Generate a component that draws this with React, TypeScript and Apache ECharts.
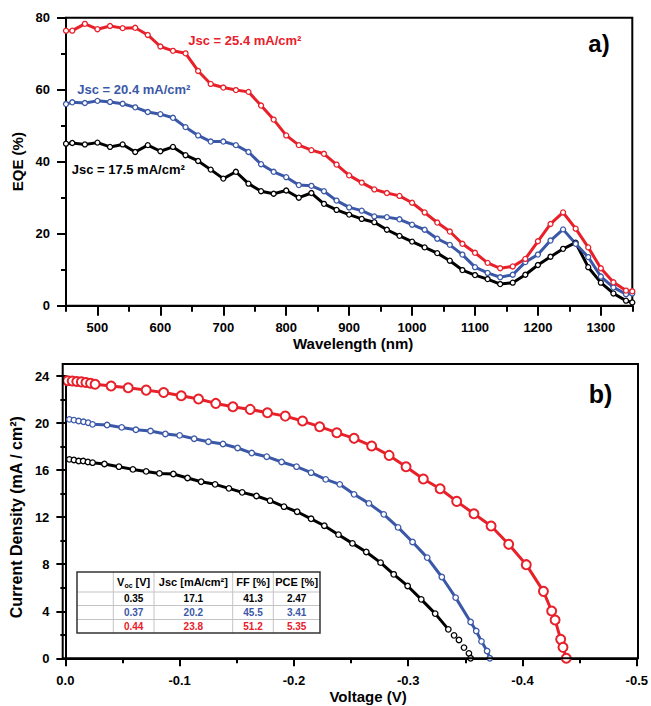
import React, { useEffect, useRef } from "react";
import * as echarts from "echarts";

const FONT = '"Liberation Sans", Arial, sans-serif';
const RED = "#e8202a";
const BLUE = "#3b58a8";
const BLACK = "#000000";

// ---- Panel a) EQE ----
const wavelength = [
  450, 460, 480, 500, 520, 540, 560, 580, 600, 620, 640, 660, 680, 700, 720, 740, 760, 780, 800, 820,
  840, 860, 880, 900, 920, 940, 960, 980, 1000, 1020, 1040, 1060, 1080, 1100, 1120, 1140, 1160, 1180,
  1200, 1220, 1240, 1260, 1280, 1300, 1320, 1340, 1350,
];
const eqeRed = [
  76.4, 76.4, 78.3, 76.8, 77.7, 77.1, 77.2, 75.2, 72.0, 70.8, 70.1, 65.2, 61.6, 60.6, 59.9, 59.4, 55.6,
  51.7, 47.3, 44.6, 43.2, 42.2, 39.2, 36.2, 34.2, 32.3, 31.3, 30.5, 28.6, 25.9, 23.1, 20.6, 17.2, 14.7,
  11.9, 10.4, 10.9, 13.0, 17.9, 22.7, 25.9, 21.4, 16.2, 10.4, 6.5, 4.2, 4.0,
];
const eqeBlue = [
  56.0, 56.5, 56.3, 56.9, 56.6, 56.1, 55.1, 53.8, 53.2, 52.2, 49.6, 47.3, 45.6, 45.6, 44.6, 42.7, 39.3,
  37.2, 35.7, 33.5, 33.3, 31.8, 29.2, 27.3, 26.4, 24.8, 24.6, 24.0, 22.5, 21.1, 18.6, 16.9, 14.2, 10.7,
  9.1, 7.9, 8.6, 12.1, 14.2, 18.1, 21.2, 17.2, 13.5, 8.1, 5.1, 3.2, 3.4,
];
const eqeBlack = [
  45.0, 45.2, 44.8, 45.3, 44.1, 44.8, 42.7, 44.6, 42.9, 44.1, 41.8, 40.2, 37.8, 35.3, 37.2, 33.9, 31.8,
  31.1, 32.0, 30.0, 31.3, 28.3, 26.6, 25.3, 24.1, 23.2, 21.1, 19.4, 17.8, 16.2, 14.6, 12.5, 9.9, 8.5,
  7.4, 6.0, 6.4, 8.6, 11.3, 13.6, 15.8, 17.5, 10.7, 6.4, 3.4, 1.4, 0.9,
];
const jscLabels = ["Jsc = 25.4 mA/cm²", "Jsc = 20.4 mA/cm²", "Jsc = 17.5 mA/cm²"];

// ---- Panel b) J-V ----
const voltageRed = [
  -0.002, -0.006, -0.01, -0.014, -0.018, -0.022, -0.026, -0.04, -0.055, -0.0707, -0.086, -0.1014,
  -0.1165, -0.1316, -0.1466, -0.1617, -0.1768, -0.1924, -0.2075, -0.2225, -0.2375, -0.2526, -0.268,
  -0.2833, -0.2981, -0.3132, -0.3279, -0.3424, -0.3575, -0.3725, -0.3879, -0.4033, -0.4183, -0.4255,
  -0.4285, -0.4334, -0.4354, -0.4383,
];
const currentRed = [
  23.6, 23.57, 23.53, 23.5, 23.45, 23.38, 23.3, 23.15, 23.0, 22.8, 22.6, 22.32, 22.04, 21.67, 21.39,
  21.16, 20.88, 20.59, 20.17, 19.69, 19.18, 18.7, 18.05, 17.25, 16.29, 15.24, 14.42, 13.34, 12.29,
  11.25, 9.69, 7.96, 5.69, 4.02, 3.26, 1.61, 0.93, 0.0,
];
const voltageBlue = [
  -0.0035, -0.0075, -0.0116, -0.0159, -0.02, -0.0238, -0.0365, -0.0493, -0.0617, -0.0745, -0.0875,
  -0.1, -0.1127, -0.1252, -0.1379, -0.1507, -0.1631, -0.1762, -0.1892, -0.2023, -0.215, -0.2278,
  -0.2401, -0.2526, -0.2656, -0.2786, -0.2911, -0.3038, -0.3166, -0.3294, -0.3415, -0.3546, -0.3595,
  -0.3641, -0.369, -0.3714,
];
const currentBlue = [
  20.31, 20.25, 20.17, 20.11, 20.03, 19.89, 19.83, 19.63, 19.43, 19.32, 19.07, 18.95, 18.67, 18.41,
  18.22, 17.88, 17.45, 17.14, 16.69, 16.29, 15.78, 15.21, 14.79, 13.94, 13.17, 12.24, 11.13, 9.89,
  8.56, 6.91, 5.16, 3.09, 2.32, 1.44, 0.62, 0.0,
];
const voltageBlack = [
  -0.0035, -0.0075, -0.0116, -0.0156, -0.0197, -0.0238, -0.0342, -0.0469, -0.0591, -0.0707, -0.0823,
  -0.0945, -0.1069, -0.1188, -0.131, -0.1431, -0.1547, -0.1672, -0.1791, -0.1913, -0.2028, -0.215,
  -0.2266, -0.239, -0.2512, -0.2633, -0.2758, -0.2873, -0.2995, -0.3114, -0.3236, -0.3351,
];
const currentBlack = [
  16.91, 16.86, 16.77, 16.77, 16.69, 16.63, 16.52, 16.29, 16.06, 15.89, 15.72, 15.67, 15.33, 15.01,
  14.79, 14.45, 14.11, 13.8, 13.4, 12.89, 12.46, 11.86, 11.27, 10.51, 9.77, 9.04, 8.13, 7.14, 6.15,
  5.01, 3.8, 2.46,
];
const voltageBlackTail = [-0.3401, -0.3444, -0.3488, -0.3531, -0.3546];
const currentBlackTail = [1.95, 1.56, 0.91, 0.42, 0.0];

// ---- Table ----
const tableHeader = ["{a|V}{s|oc}{a| [V]}", "Jsc [mA/cm²]", "FF [%]", "PCE [%]"];
const tableRows = [
  ["0.35", "17.1", "41.3", "2.47"],
  ["0.37", "20.2", "45.5", "3.41"],
  ["0.44", "23.8", "51.2", "5.35"],
];
const tableColors = [BLACK, BLUE, RED];

const pairs = (xs: number[], ys: number[]) => xs.map((x, i) => [x, ys[i]]);

export default function App() {
  const ref = useRef<HTMLDivElement>(null);

  useEffect(() => {
    document.body.style.margin = "0";
    if (!ref.current) return;
    const chart = echarts.init(ref.current, undefined, { renderer: "svg" });

    const axisLine = { show: true, onZero: false, lineStyle: { color: "#000", width: 2 } };
    const labelStyle = { color: "#000", fontSize: 13, fontWeight: "bold" as const, fontFamily: FONT };
    const nameStyle = { color: "#000", fontSize: 15, fontWeight: "bold" as const, fontFamily: FONT };

    // table geometry
    const tX = [77, 113.3, 154, 232.7, 273.3, 320];
    const tY = [572, 592, 605.5, 619.5, 633];
    const tableGraphics: any[] = [
      {
        type: "rect",
        shape: { x: tX[0], y: tY[0], width: tX[5] - tX[0], height: tY[4] - tY[0] },
        style: { fill: "#fff", stroke: "none" },
        z: 100,
      },
    ];
    for (let i = 1; i < 4; i++) {
      tableGraphics.push({
        type: "line",
        shape: { x1: tX[0], y1: tY[i], x2: tX[5], y2: tY[i] },
        style: { stroke: "#c4c4c4", lineWidth: 1 },
        z: 101,
      });
    }
    for (let i = 1; i < 5; i++) {
      tableGraphics.push({
        type: "line",
        shape: { x1: tX[i], y1: tY[0], x2: tX[i], y2: tY[4] },
        style: { stroke: "#c4c4c4", lineWidth: 1 },
        z: 101,
      });
    }
    tableGraphics.push({
      type: "rect",
      shape: { x: tX[0], y: tY[0], width: tX[5] - tX[0], height: tY[4] - tY[0] },
      style: { fill: "none", stroke: "#333", lineWidth: 1.5 },
      z: 102,
    });
    tableHeader.forEach((h, c) => {
      tableGraphics.push({
        type: "text",
        x: (tX[c + 1] + tX[c + 2]) / 2,
        y: (tY[0] + tY[1]) / 2,
        z: 103,
        style: {
          text: h,
          fill: "#000",
          fontSize: 11,
          fontWeight: "bold",
          fontFamily: FONT,
          align: "center",
          verticalAlign: "middle",
          rich: {
            a: { fontSize: 11, fontWeight: "bold", fontFamily: FONT, fill: "#000", lineHeight: 13 },
            s: { fontSize: 7, fontWeight: "bold", fontFamily: FONT, fill: "#000", verticalAlign: "bottom", lineHeight: 13 },
          },
        },
      });
    });
    tableRows.forEach((row, r) => {
      row.forEach((cell, c) => {
        tableGraphics.push({
          type: "text",
          x: (tX[c + 1] + tX[c + 2]) / 2,
          y: (tY[r + 1] + tY[r + 2]) / 2,
          z: 103,
          style: {
            text: cell,
            fill: tableColors[r],
            fontSize: 10,
            fontWeight: "bold",
            fontFamily: FONT,
            align: "center",
            verticalAlign: "middle",
          },
        });
      });
    });

    const jscPos = [
      [188.3, 40, RED],
      [77.3, 89.5, BLUE],
      [71.7, 169.5, BLACK],
    ];

    const option: any = {
      animation: false,
      backgroundColor: "#fff",
      grid: [
        { left: 66, top: 17.7, width: 566.3, height: 288, show: true, borderColor: "#000", borderWidth: 2, backgroundColor: "transparent" },
        { left: 62.7, top: 376, width: 575.3, height: 282.3 },
      ],
      xAxis: [
        {
          gridIndex: 0,
          type: "value",
          position: "bottom",
          min: 450,
          max: 1350,
          interval: 50,
          axisLine,
          axisTick: { show: true, length: 6, lineStyle: { color: "#000", width: 2 } },
          axisLabel: { show: false },
          splitLine: { show: false },
        },
        {
          gridIndex: 0,
          type: "value",
          position: "bottom",
          min: 450,
          max: 1350,
          splitNumber: 9,
          axisLine: { show: false, onZero: false },
          axisTick: { show: true, length: 10, lineStyle: { color: "#000", width: 2 } },
          axisLabel: {
            ...labelStyle,
            margin: 15,
            showMinLabel: false,
            showMaxLabel: false,
            formatter: (v: number) => String(Math.round(v)),
          },
          splitLine: { show: false },
          name: "Wavelength (nm)",
          nameLocation: "middle",
          nameGap: 30,
          nameTextStyle: { ...nameStyle, padding: [0, 0, 0, 8] },
        },
        {
          gridIndex: 1,
          type: "value",
          position: "bottom",
          min: -0.5,
          max: 0,
          interval: 0.1,
          inverse: true,
          axisLine,
          axisTick: { show: true, length: 8, lineStyle: { color: "#000", width: 2 } },
          minorTick: { show: true, splitNumber: 2, length: 5, lineStyle: { color: "#000", width: 2 } },
          axisLabel: {
            ...labelStyle,
            margin: 16,
            formatter: (v: number) => (Math.abs(v) < 1e-9 ? "0.0" : v.toFixed(1)),
          },
          splitLine: { show: false },
          minorSplitLine: { show: false },
          name: "Voltage (V)",
          nameLocation: "middle",
          nameGap: 31,
          nameTextStyle: { ...nameStyle, padding: [0, 0, 0, 34] },
        },
      ],
      yAxis: [
        {
          gridIndex: 0,
          type: "value",
          min: 0,
          max: 80,
          interval: 20,
          axisLine,
          axisTick: { show: true, length: 9, lineStyle: { color: "#000", width: 2 } },
          minorTick: { show: true, splitNumber: 2, length: 5, lineStyle: { color: "#000", width: 2 } },
          axisLabel: { ...labelStyle, margin: 16 },
          splitLine: { show: false },
          minorSplitLine: { show: false },
          name: "EQE (%)",
          nameLocation: "middle",
          nameGap: 33,
          nameTextStyle: nameStyle,
        },
        {
          gridIndex: 1,
          type: "value",
          min: 0,
          max: 24,
          interval: 4,
          axisLine,
          axisTick: { show: true, length: 9, lineStyle: { color: "#000", width: 2 } },
          minorTick: { show: true, splitNumber: 2, length: 5, lineStyle: { color: "#000", width: 2 } },
          axisLabel: { ...labelStyle, margin: 16 },
          splitLine: { show: false },
          minorSplitLine: { show: false },
          name: "Current Density (mA / cm²)",
          nameLocation: "middle",
          nameGap: 31,
          nameTextStyle: { ...nameStyle, fontSize: 16 },
        },
      ],
      series: [
        ...[
          [eqeBlack, BLACK],
          [eqeBlue, BLUE],
          [eqeRed, RED],
        ].map(([vals, col]: any) => ({
          type: "line",
          xAxisIndex: 0,
          yAxisIndex: 0,
          data: pairs(wavelength, vals),
          symbol: "circle",
          symbolSize: 5,
          itemStyle: { color: "#fff", borderColor: col, borderWidth: 1.3 },
          lineStyle: { color: col, width: 3 },
          emphasis: { disabled: true },
        })),
        {
          type: "line",
          xAxisIndex: 2,
          yAxisIndex: 1,
          data: pairs(voltageBlack, currentBlack),
          symbol: "circle",
          symbolSize: 5.5,
          itemStyle: { color: "#fff", borderColor: BLACK, borderWidth: 1.3 },
          lineStyle: { color: BLACK, width: 3 },
          emphasis: { disabled: true },
        },
        {
          type: "scatter",
          xAxisIndex: 2,
          yAxisIndex: 1,
          data: pairs(voltageBlackTail, currentBlackTail),
          symbol: "circle",
          symbolSize: 5.5,
          itemStyle: { color: "#fff", borderColor: BLACK, borderWidth: 1.3, opacity: 1 },
          emphasis: { disabled: true },
        },
        {
          type: "line",
          xAxisIndex: 2,
          yAxisIndex: 1,
          data: pairs(voltageBlue, currentBlue),
          symbol: "circle",
          symbolSize: 5.5,
          itemStyle: { color: "#fff", borderColor: BLUE, borderWidth: 1.3 },
          lineStyle: { color: BLUE, width: 3 },
          emphasis: { disabled: true },
        },
        {
          type: "line",
          xAxisIndex: 2,
          yAxisIndex: 1,
          data: pairs(voltageRed, currentRed),
          symbol: "circle",
          symbolSize: 9,
          itemStyle: { color: "#fff", borderColor: RED, borderWidth: 2 },
          lineStyle: { color: RED, width: 3 },
          emphasis: { disabled: true },
        },
      ],
      graphic: [
        ...jscLabels.map((t, i) => ({
          type: "text",
          x: jscPos[i][0],
          y: jscPos[i][1],
          z: 50,
          style: {
            text: t,
            fill: jscPos[i][2],
            fontSize: 13,
            fontWeight: "bold",
            fontFamily: FONT,
            align: "left",
            verticalAlign: "middle",
          },
        })),
        {
          type: "text",
          x: 599,
          y: 43,
          z: 50,
          style: { text: "a)", fill: "#000", fontSize: 24, fontWeight: "bold", fontFamily: FONT, align: "center", verticalAlign: "middle" },
        },
        {
          type: "text",
          x: 600.5,
          y: 394,
          z: 50,
          style: { text: "b)", fill: "#000", fontSize: 25, fontWeight: "bold", fontFamily: FONT, align: "center", verticalAlign: "middle" },
        },
        {
          type: "rect",
          shape: { x: 62.7, y: 364, width: 575.3, height: 294.3 },
          style: { fill: "none", stroke: "#000", lineWidth: 2 },
          z: 60,
        },
        ...tableGraphics,
      ],
    };

    chart.setOption(option);
    return () => chart.dispose();
  }, []);

  return <div ref={ref} style={{ position: "absolute", left: 0, top: 0, width: 651, height: 706 }} />;
}
